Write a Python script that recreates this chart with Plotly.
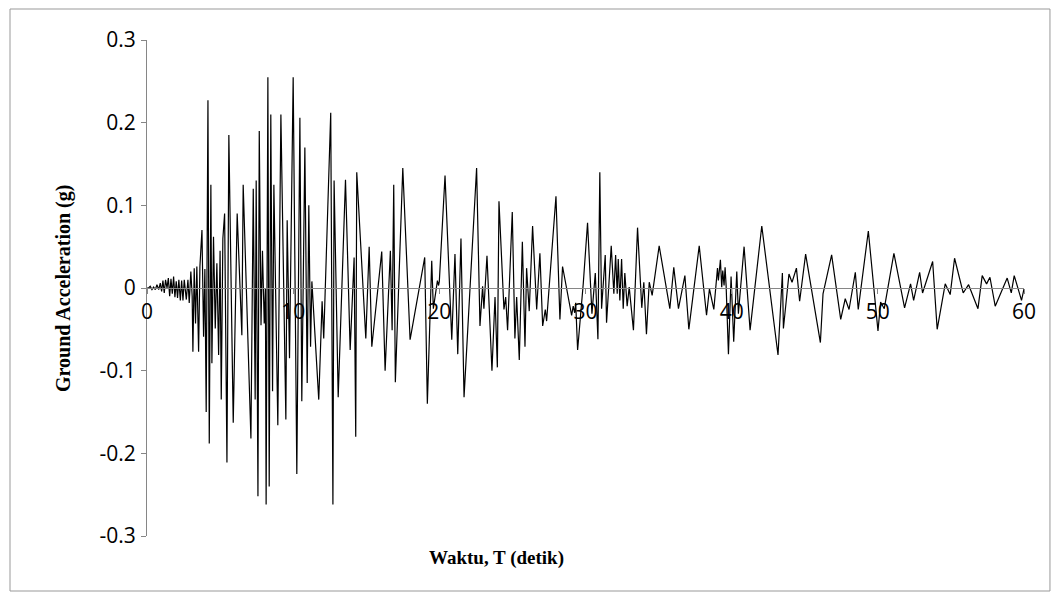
import plotly.graph_objects as go

# time (s) and ground acceleration (g)
time_s = [
    0.0, 0.11, 0.22, 0.34, 0.45, 0.57, 0.68, 0.8, 0.91, 1.0, 1.09, 1.18, 1.27, 1.37, 1.46,
    1.55, 1.64, 1.73, 1.82, 1.91, 2.0, 2.09, 2.18, 2.28, 2.37, 2.46, 2.55, 2.69, 2.8, 2.89,
    3.0, 3.09, 3.14, 3.23, 3.32, 3.41, 3.53, 3.62, 3.76, 3.87, 3.96, 4.05, 4.17, 4.26,
    4.37, 4.44, 4.55, 4.67, 4.78, 4.9, 5.0, 5.08, 5.19, 5.31, 5.47, 5.6, 5.9, 6.17, 6.49,
    6.58, 7.11, 7.27, 7.4, 7.47, 7.59, 7.68, 7.8, 7.9, 8.02, 8.1, 8.15, 8.27, 8.36, 8.47,
    8.59, 8.68, 8.95, 9.16, 9.5, 9.59, 9.75, 10.0, 10.25, 10.46, 10.59, 10.8, 10.96, 11.07,
    11.19, 11.28, 11.75, 11.98, 12.09, 12.57, 12.72, 12.8, 13.08, 13.58, 13.9, 14.17, 14.28,
    14.35, 14.97, 15.2, 15.38, 16.06, 16.29, 16.65, 16.77, 16.88, 16.99, 17.5, 18.0, 19.0,
    19.18, 19.48, 19.59, 19.87, 19.95, 20.0, 20.39, 20.85, 21.07, 21.26, 21.48, 21.69,
    22.55, 22.78, 22.96, 23.05, 23.26, 23.6, 23.81, 23.97, 24.08, 24.42, 24.54, 24.67,
    24.99, 25.17, 25.29, 25.47, 25.68, 25.86, 25.97, 26.15, 26.38, 26.66, 26.88, 27.07,
    27.25, 27.34, 27.98, 28.25, 28.43, 29.05, 29.16, 29.26, 29.33, 29.46, 29.85, 30.14,
    30.44, 30.67, 30.85, 30.98, 31.1, 31.35, 31.44, 31.76, 31.94, 32.06, 32.17, 32.24,
    32.35, 32.47, 32.58, 32.69, 32.85, 32.99, 33.28, 33.56, 33.85, 33.99, 34.17, 34.36,
    34.56, 35.04, 35.77, 36.04, 36.36, 36.8, 37.07, 37.78, 38.28, 38.48, 38.78, 39.03,
    39.09, 39.23, 39.32, 39.39, 39.48, 39.55, 39.62, 39.78, 39.96, 40.14, 40.35, 40.46,
    40.85, 41.26, 42.06, 43.17, 43.47, 43.54, 43.92, 44.13, 44.43, 44.65, 45.06, 46.07,
    46.25, 46.84, 47.46, 47.77, 48.03, 48.46, 48.66, 49.35, 50.01, 50.19, 50.44, 51.1,
    51.83, 52.24, 52.45, 52.86, 53.06, 53.75, 54.06, 54.61, 54.95, 55.25, 55.84, 56.21,
    56.85, 57.14, 57.44, 57.67, 58.03, 58.85, 59.13, 59.33, 59.83, 60.0,
]
accel_g = [
    0.0, 0.0, 0.002, -0.002, 0.001, -0.002, 0.004, -0.002, 0.006, -0.004, 0.009, -0.006, 0.01, 0.0, 0.012,
    -0.01, 0.011, -0.007, 0.014, -0.011, 0.008, -0.012, 0.01, -0.015, 0.009, -0.015, 0.01, -0.014, 0.01, -0.018,
    0.02, -0.01, -0.077, 0.024, -0.043, 0.026, -0.077, 0.026, 0.07, -0.059, 0.023, -0.15, 0.227, -0.188,
    0.125, -0.091, 0.062, -0.049, 0.03, -0.081, 0.045, -0.135, 0.06, 0.09, -0.211, 0.185, -0.163, 0.09, -0.057,
    0.125, -0.182, 0.12, -0.135, 0.13, -0.252, 0.19, -0.045, 0.045, -0.043, 0.0, -0.262, 0.255, -0.24, 0.21,
    -0.125, 0.125, -0.166, 0.21, -0.159, 0.082, -0.085, 0.255, -0.225, 0.206, -0.137, 0.17, -0.115, 0.1,
    -0.071, 0.008, -0.135, -0.016, -0.061, 0.212, -0.262, 0.13, -0.132, 0.131, -0.075, 0.037, -0.18,
    0.14, -0.061, 0.05, -0.071, 0.044, -0.1, 0.045, -0.051, 0.125, -0.114, 0.145, -0.0625, 0.037,
    -0.14, 0.033, -0.025, 0.009, 0.003, 0.008, 0.136, -0.0625, 0.041, -0.08, 0.06, -0.132,
    0.145, -0.046, 0.002, -0.025, 0.039, -0.1, -0.011, -0.096, 0.105, -0.026, -0.011, -0.051,
    0.092, -0.061, -0.011, -0.087, 0.056, -0.071, 0.024, -0.028, 0.075, -0.026, 0.042, -0.046,
    -0.026, -0.04, 0.111, -0.038, 0.026, -0.033, -0.022, -0.03, -0.018, -0.075, 0.006, 0.079,
    -0.031, 0.018, -0.062, 0.14, -0.025, 0.04, -0.042, 0.051, -0.007, 0.04, -0.007, 0.035,
    -0.015, 0.035, -0.025, 0.018, -0.022, 0.001, -0.051, 0.073, -0.024, 0.007, -0.056, 0.007,
    -0.009, 0.051, -0.025, 0.025, -0.025, 0.015, -0.05, 0.051, -0.033, -0.001, -0.026, 0.024,
    0.009, 0.034, 0.001, 0.021, 0.003, 0.025, 0.003, -0.08, 0.014, -0.065, 0.02, -0.031,
    0.05, -0.051, 0.075, -0.081, 0.018, -0.049, 0.017, 0.007, 0.024, -0.016, 0.041, -0.066,
    -0.007, 0.04, -0.038, -0.013, -0.026, 0.019, -0.026, 0.069, -0.052, -0.017, -0.025, 0.042,
    -0.024, 0.005, -0.015, 0.019, -0.006, 0.032, -0.05, 0.005, -0.008, 0.036, -0.006, 0.004,
    -0.025, 0.015, 0.005, 0.013, -0.022, 0.012, -0.006, 0.015, -0.015, -0.001,
]

x_ticks = [0, 10, 20, 30, 40, 50, 60]
y_ticks = [0.3, 0.2, 0.1, 0, -0.1, -0.2, -0.3]
y_tick_text = ["0.3", "0.2", "0.1", "0", "-0.1", "-0.2", "-0.3"]

fig = go.Figure()
fig.add_trace(go.Scatter(x=time_s, y=accel_g, mode="lines",
                         line=dict(color="black", width=1.2), showlegend=False))

axis_gray = "#868686"
tick_font = dict(family="Open Sans, Lato, sans-serif", size=21, color="black")
ytitle_font = dict(family="Liberation Serif, Times New Roman, serif", size=20, color="black")
xtitle_font = dict(family="Liberation Serif, Times New Roman, serif", size=19, color="black")

fig.update_layout(
    width=1052, height=592,
    margin=dict(l=139, r=36, t=32, b=64),
    paper_bgcolor="white", plot_bgcolor="white",
    xaxis=dict(range=[0, 60], tickvals=x_ticks, showgrid=False, zeroline=False,
               showline=True, linecolor=axis_gray, linewidth=1,
               ticks="outside", ticklen=5, tickcolor=axis_gray,
               anchor="free", position=0.5, tickfont=tick_font),
    yaxis=dict(range=[-0.3, 0.3], tickvals=y_ticks, ticktext=y_tick_text,
               showgrid=False, zeroline=False, showline=True, linecolor=axis_gray,
               linewidth=1, ticks="outside", ticklen=5, tickcolor=axis_gray,
               tickfont=tick_font, ticklabelstandoff=1),
    annotations=[
        dict(text="<b>Ground Acceleration (g)</b>", xref="paper", yref="paper",
             x=-0.0958, y=0.5, textangle=-90, showarrow=False,
             xanchor="center", yanchor="middle", font=ytitle_font),
        dict(text="<b>Waktu, T (detik)</b>", xref="paper", yref="paper",
             x=0.399, y=-0.0444, showarrow=False,
             xanchor="center", yanchor="middle", font=xtitle_font),
    ],
    shapes=[dict(type="rect", xref="paper", yref="paper",
                 x0=-0.1562, x1=1.0296, y0=-0.1109, y1=1.0625,
                 line=dict(color="#999999", width=1), fillcolor="rgba(0,0,0,0)")],
)

fig.write_html("out.html")
